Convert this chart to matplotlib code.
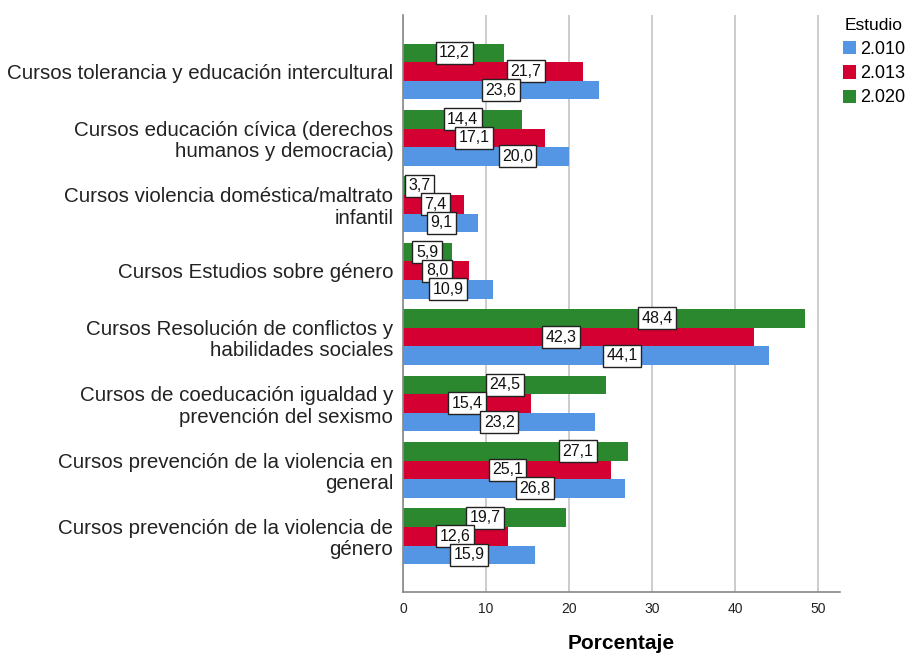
import matplotlib
matplotlib.use("Agg")
import matplotlib.pyplot as plt
import numpy as np

# Datos
categorias = [
    "Cursos tolerancia y educación intercultural",
    "Cursos educación cívica (derechos\nhumanos y democracia)",
    "Cursos violencia doméstica/maltrato\ninfantil",
    "Cursos Estudios sobre género",
    "Cursos Resolución de conflictos y\nhabilidades sociales",
    "Cursos de coeducación igualdad y\nprevención del sexismo",
    "Cursos prevención de la violencia en\ngeneral",
    "Cursos prevención de la violencia de\ngénero",
]
estudios = ["2.010", "2.013", "2.020"]
v2010 = [23.6, 20.0, 9.1, 10.9, 44.1, 23.2, 26.8, 15.9]
v2013 = [21.7, 17.1, 7.4, 8.0, 42.3, 15.4, 25.1, 12.6]
v2020 = [12.2, 14.4, 3.7, 5.9, 48.4, 24.5, 27.1, 19.7]

# posicion (en %) donde SPSS coloca cada etiqueta
etiq2010 = [11.8, 13.8, 4.6, 5.4, 26.4, 11.6, 15.9, 8.0]
etiq2013 = [14.8, 8.6, 3.9, 4.1, 19.0, 7.7, 12.6, 6.3]
etiq2020 = [6.2, 7.2, 2.0, 2.9, 30.6, 12.3, 21.1, 9.9]

colores = {"2.010": "#5496E3", "2.013": "#D50032", "2.020": "#2B882E"}

plt.rcParams["font.family"] = ["Liberation Sans", "DejaVu Sans"]

fig = plt.figure(figsize=(9.07, 6.54), dpi=100)
ax = fig.add_axes([0.4443, 0.0948, 0.4817, 0.8822])

y = np.arange(len(categorias))
h = 0.28
series = [
    ("2.020", v2020, etiq2020, -h),
    ("2.013", v2013, etiq2013, 0),
    ("2.010", v2010, etiq2010, h),
]
handles = {}
for nombre, vals, etiq, off in series:
    barras = ax.barh(y + off, vals, height=h, color=colores[nombre],
                     zorder=2, label=nombre)
    handles[nombre] = barras
    for yi, v, xl in zip(y + off, vals, etiq):
        ax.text(xl, yi, f"{v:.1f}".replace(".", ","), ha="center", va="center",
                fontsize=11.5, color="#111111", zorder=4,
                bbox=dict(boxstyle="square,pad=0.22", facecolor="white",
                          edgecolor="#222222", linewidth=1.0))

ax.set_xlim(0, 52.65)
ax.set_ylim(7.84, -0.85)
ax.set_xticks([0, 10, 20, 30, 40, 50])
ax.set_yticks(y)
ax.set_yticklabels(categorias, fontsize=14.8, linespacing=1.15)
ax.tick_params(axis="y", length=0, pad=7, colors="#222222")
ax.tick_params(axis="x", length=0, pad=7, labelsize=10, colors="#222222")
ax.grid(axis="x", color="#cccccc", linewidth=1.4, zorder=0)
ax.set_axisbelow(True)
for s in ["top", "right"]:
    ax.spines[s].set_visible(False)
for s in ["left", "bottom"]:
    ax.spines[s].set_color("#888888")
    ax.spines[s].set_linewidth(1.2)

ax.set_xlabel("Porcentaje", fontsize=15, fontweight="bold", labelpad=13)

leg = fig.legend([handles[e] for e in estudios], estudios, title="Estudio",
                 loc="upper left", bbox_to_anchor=(0.929, 0.973),
                 frameon=False, fontsize=13, title_fontsize=12.5,
                 handlelength=0.75, handleheight=0.75, handletextpad=0.2,
                 labelspacing=0.4, borderaxespad=0, borderpad=0)
leg._legend_box.sep = 6

fig.savefig("out.png", dpi=100)
